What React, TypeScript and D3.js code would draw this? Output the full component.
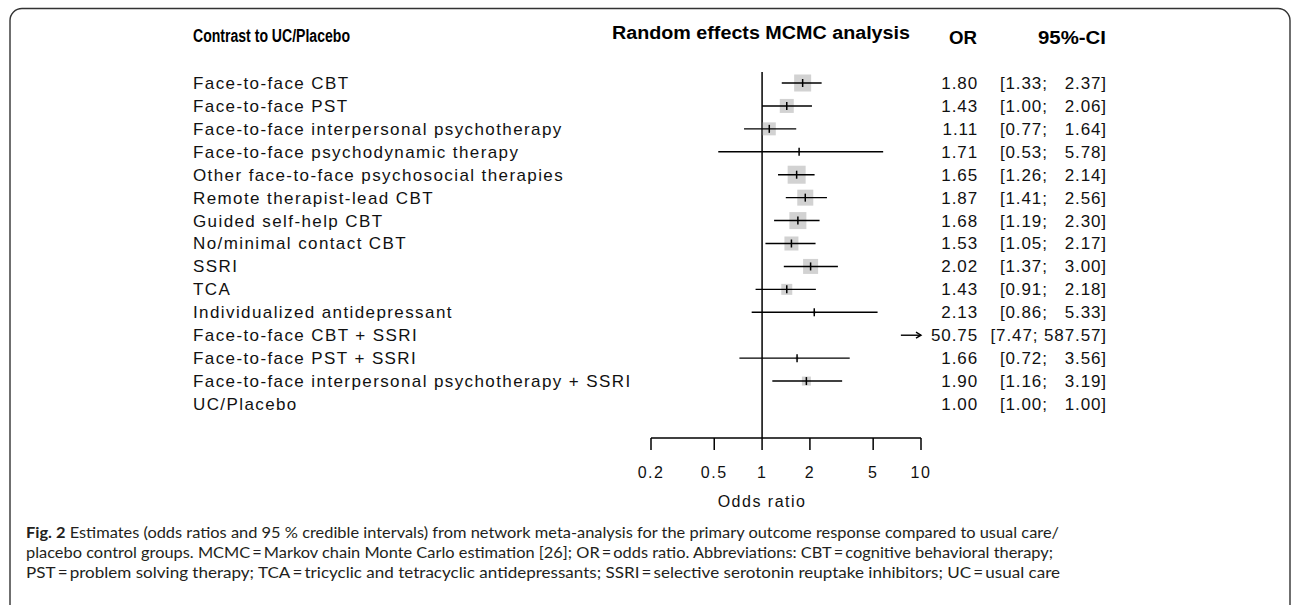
import React from 'react';
import { scaleLog, scalePoint, scaleLinear, format } from 'd3';

const width = 1292;
const height = 605;

const labels = [
  'Face-to-face CBT',
  'Face-to-face PST',
  'Face-to-face interpersonal psychotherapy',
  'Face-to-face psychodynamic therapy',
  'Other face-to-face psychosocial therapies',
  'Remote therapist-lead CBT',
  'Guided self-help CBT',
  'No/minimal contact CBT',
  'SSRI',
  'TCA',
  'Individualized antidepressant',
  'Face-to-face CBT + SSRI',
  'Face-to-face PST + SSRI',
  'Face-to-face interpersonal psychotherapy + SSRI',
  'UC/Placebo',
];
const oddsRatios = [1.8, 1.43, 1.11, 1.71, 1.65, 1.87, 1.68, 1.53, 2.02, 1.43, 2.13, 50.75, 1.66, 1.9, 1.0];
const lowerCI = [1.33, 1.0, 0.77, 0.53, 1.26, 1.41, 1.19, 1.05, 1.37, 0.91, 0.86, 7.47, 0.72, 1.16, 1.0];
const upperCI = [2.37, 2.06, 1.64, 5.78, 2.14, 2.56, 2.3, 2.17, 3.0, 2.18, 5.33, 587.57, 3.56, 3.19, 1.0];
// relative weight of each estimate (box size)
const weights = [17, 14, 13, 2, 18, 16, 17, 14, 15, 11, 3, 0, 3, 9, 0];
const tickValues = [0.2, 0.5, 1, 2, 5, 10];

const captionLines = [
  ' Estimates (odds ratios and 95 % credible intervals) from network meta-analysis for the primary outcome response compared to usual care/',
  'placebo control groups. MCMC\u2009=\u2009Markov chain Monte Carlo estimation [26]; OR\u2009=\u2009odds ratio. Abbreviations: CBT\u2009=\u2009cognitive behavioral therapy;',
  'PST\u2009=\u2009problem solving therapy; TCA\u2009=\u2009tricyclic and tetracyclic antidepressants; SSRI\u2009=\u2009selective serotonin reuptake inhibitors; UC\u2009=\u2009usual care',
];

const plotFont = '"Liberation Sans", Arial, sans-serif';
const captionFont = 'Lato, "Noto Sans", sans-serif';

const App = () => {
  const xScale = scaleLog().domain([0.2, 10]).range([651, 921]);
  const yScale = scalePoint<number>()
    .domain(labels.map((_, i) => i))
    .range([83, 404]);
  const boxScale = scaleLinear().domain([0, 18]).range([0, 18]);
  const fmt = format('.2f');
  const axisY = 438;
  const [xMin, xMax] = xScale.range();

  return (
    <svg
      width={width}
      height={height}
      style={{ position: 'absolute', left: 0, top: 0, background: '#fff' }}
    >
      {/* frame */}
      <rect
        x={10}
        y={8.5}
        width={1280}
        height={700}
        rx={12}
        fill="none"
        stroke="#333"
        strokeWidth={1.4}
      />

      {/* headers */}
      <g fontFamily={plotFont} fontWeight="bold" fontSize={18} fill="#000">
        <text x={193} y={36} dy="0.35em" textLength={157} lengthAdjust="spacingAndGlyphs">
          Contrast to UC/Placebo
        </text>
        <text x={612} y={33} dy="0.35em" textLength={298} lengthAdjust="spacingAndGlyphs">
          Random effects MCMC analysis
        </text>
        <text x={949} y={38} dy="0.35em" textLength={28} lengthAdjust="spacingAndGlyphs">
          OR
        </text>
        <text x={1038} y={38} dy="0.35em" textLength={68} lengthAdjust="spacingAndGlyphs">
          95%-CI
        </text>
      </g>

      {/* row labels and numbers */}
      <g fontFamily={plotFont} fontSize={17} fill="#111">
        {labels.map((d, i) => (
          <text key={d} x={193} y={yScale(i)} dy="0.35em" letterSpacing={1.4}>
            {d}
          </text>
        ))}
        {oddsRatios.map((d, i) => (
          <text key={i} x={978} y={yScale(i)} dy="0.35em" textAnchor="end" letterSpacing={0.9}>
            {fmt(d)}
          </text>
        ))}
        {lowerCI.map((d, i) => (
          <text
            key={i}
            x={1107}
            y={yScale(i)}
            dy="0.35em"
            textAnchor="end"
            letterSpacing={0.9}
            style={{ whiteSpace: 'pre' }}
          >
            {`[${fmt(d)}; ${fmt(upperCI[i]).padStart(6, ' ')}]`}
          </text>
        ))}
      </g>

      {/* reference line */}
      <line x1={xScale(1)} x2={xScale(1)} y1={72} y2={axisY} stroke="#000" strokeWidth={1.5} />

      {/* estimates */}
      {oddsRatios.map((d, i) => {
        const y = yScale(i) as number;
        const lo = Math.max(lowerCI[i], 0.2);
        const hi = Math.min(upperCI[i], 10);
        const arrow = upperCI[i] > 10;
        const s = boxScale(weights[i]);
        const inRange = d >= 0.2 && d <= 10;
        return (
          <g key={i}>
            {inRange && s > 0 && (
              <rect x={xScale(d) - s / 2} y={y - s / 2} width={s} height={s} fill="#d2d2d2" />
            )}
            {hi > lo && (
              <line x1={xScale(lo)} x2={xScale(hi)} y1={y} y2={y} stroke="#000" strokeWidth={1.4} />
            )}
            {arrow && (
              <path
                d={`M${xScale(hi) - 5},${y - 3} L${xScale(hi)},${y} L${xScale(hi) - 5},${y + 3}`}
                fill="none"
                stroke="#000"
                strokeWidth={1.4}
              />
            )}
            {inRange && hi > lo && (
              <line x1={xScale(d)} x2={xScale(d)} y1={y - 4} y2={y + 4} stroke="#000" strokeWidth={1.5} />
            )}
          </g>
        );
      })}

      {/* axis */}
      <g fontFamily={plotFont} fontSize={16} fill="#111" letterSpacing={1.5}>
        <line x1={xMin} x2={xMax} y1={axisY} y2={axisY} stroke="#000" strokeWidth={1.5} />
        {tickValues.map((t) => (
          <g key={t} transform={`translate(${xScale(t)},0)`}>
            <line y1={axisY} y2={axisY + 12} stroke="#000" strokeWidth={1.5} />
            <text y={472} dy="0.35em" textAnchor="middle">
              {t}
            </text>
          </g>
        ))}
        <text x={xScale(1)} y={501} dy="0.35em" textAnchor="middle">
          Odds ratio
        </text>
      </g>

      {/* caption */}
      <g fontFamily={captionFont} fontSize={16} fill="#231f20">
        <text x={26} y={538} textLength={1033} lengthAdjust="spacingAndGlyphs" style={{ whiteSpace: 'pre' }}>
          <tspan fontWeight="bold">Fig. 2</tspan>
          {captionLines[0]}
        </text>
        <text x={26} y={558} textLength={1027} lengthAdjust="spacingAndGlyphs">
          {captionLines[1]}
        </text>
        <text x={26} y={578} textLength={1034} lengthAdjust="spacingAndGlyphs">
          {captionLines[2]}
        </text>
      </g>
    </svg>
  );
};

export default App;
